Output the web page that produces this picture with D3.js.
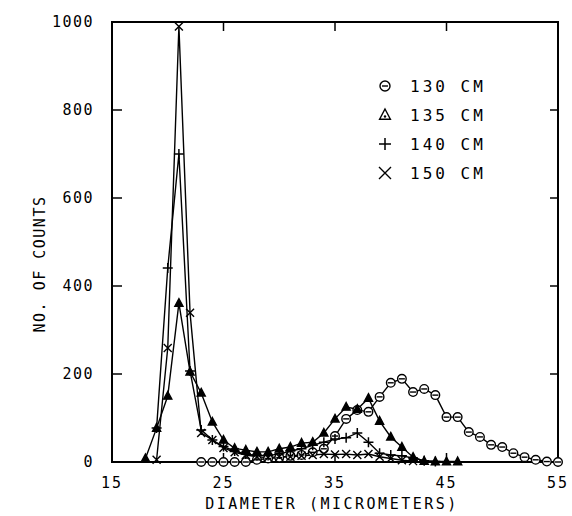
<!DOCTYPE html>
<html>
<head>
<meta charset="utf-8">
<script src="https://cdn.jsdelivr.net/npm/d3@7"></script>
<style>
  body { margin: 0; background: #fff; }
  text { font-family: "DejaVu Sans Mono", monospace; fill: #000; }
</style>
</head>
<body>
<svg id="chart" width="572" height="516"></svg>
<script>
// diameters (micrometers) and counts
var diam130 = d3.range(23, 56);
var counts130 = [0,0,0,0,0,5,8,10,14,16,22,30,59,98,118,114,148,180,189,159,166,152,102,102,68,57,39,34,20,11,5,1,0];

var diam135 = d3.range(18, 47);
var counts135 = [8,77,150,361,205,157,91,50,31,27,23,23,30,34,43,45,66,98,125,120,145,93,57,34,11,2,1,1,1];

var diam140 = d3.range(19, 45);
var counts140 = [77,441,700,207,73,50,35,25,18,15,15,18,25,30,38,45,52,55,66,45,20,16,14,9,3,1];

var diam150 = d3.range(19, 43);
var counts150 = [5,259,990,339,66,50,32,22,16,12,10,12,12,14,16,18,17,18,16,18,12,8,4,2];

var seriesNames = ["130 CM", "135 CM", "140 CM", "150 CM"];
var seriesMarks = ["circle", "triangle", "plus", "cross"];

var xTicks = [15, 25, 35, 45, 55];
var yTicks = [0, 200, 400, 600, 800, 1000];

var series = [
  { name: seriesNames[0], mark: seriesMarks[0], pts: diam130.map((d, i) => [d, counts130[i]]) },
  { name: seriesNames[1], mark: seriesMarks[1], pts: diam135.map((d, i) => [d, counts135[i]]) },
  { name: seriesNames[2], mark: seriesMarks[2], pts: diam140.map((d, i) => [d, counts140[i]]) },
  { name: seriesNames[3], mark: seriesMarks[3], pts: diam150.map((d, i) => [d, counts150[i]]) }
];

var svg = d3.select("#chart");

var x = d3.scaleLinear().domain([15, 55]).range([112, 558]);
var y = d3.scaleLinear().domain([0, 1000]).range([462, 22]);

// frame
svg.append("rect")
  .attr("x", x(15)).attr("y", y(1000))
  .attr("width", x(55) - x(15)).attr("height", y(0) - y(1000))
  .attr("fill", "none").attr("stroke", "#000").attr("stroke-width", 2);

// inward ticks, all four sides
var inner = [25, 35, 45];
svg.append("g").selectAll("line").data(inner).enter().append("line")
  .attr("x1", d => x(d)).attr("x2", d => x(d))
  .attr("y1", y(0)).attr("y2", y(0) - 9)
  .attr("stroke", "#000").attr("stroke-width", 1.5);
svg.append("g").selectAll("line").data(inner).enter().append("line")
  .attr("x1", d => x(d)).attr("x2", d => x(d))
  .attr("y1", y(1000)).attr("y2", y(1000) + 9)
  .attr("stroke", "#000").attr("stroke-width", 1.5);
var innerY = [200, 400, 600, 800];
svg.append("g").selectAll("line").data(innerY).enter().append("line")
  .attr("x1", x(15)).attr("x2", x(15) + 10)
  .attr("y1", d => y(d)).attr("y2", d => y(d))
  .attr("stroke", "#000").attr("stroke-width", 1.5);
svg.append("g").selectAll("line").data(innerY).enter().append("line")
  .attr("x1", x(55)).attr("x2", x(55) - 8)
  .attr("y1", d => y(d)).attr("y2", d => y(d))
  .attr("stroke", "#000").attr("stroke-width", 1.5);

// tick labels
svg.append("g").selectAll("text").data(xTicks).enter().append("text")
  .attr("x", d => x(d)).attr("y", 488)
  .attr("text-anchor", "middle")
  .style("font-size", "15px").style("letter-spacing", "2px")
  .text(d => d);
svg.append("g").selectAll("text").data(yTicks).enter().append("text")
  .attr("x", 94).attr("y", d => y(d) + 5)
  .attr("text-anchor", "end")
  .style("font-size", "15px").style("letter-spacing", "1.5px")
  .text(d => d);

// axis titles
svg.append("text")
  .attr("x", 332).attr("y", 509)
  .attr("text-anchor", "middle")
  .style("font-size", "15px").style("letter-spacing", "2.5px")
  .text("DIAMETER (MICROMETERS)");
svg.append("text")
  .attr("transform", "translate(45,264) rotate(-90)")
  .attr("text-anchor", "middle")
  .style("font-size", "15px").style("letter-spacing", "1.5px")
  .text("NO. OF COUNTS");

var line = d3.line().x(d => x(d[0])).y(d => y(d[1]));

svg.append("g").selectAll("path").data(series).enter().append("path")
  .attr("d", d => line(d.pts))
  .attr("fill", "none").attr("stroke", "#000").attr("stroke-width", 1.4);

// draw one marker into a group
function drawMark(g, mark, legend) {
  if (mark == "circle") {
    g.append("circle").attr("r", legend ? 5 : 4.3)
      .attr("fill", "#fff").attr("stroke", "#000").attr("stroke-width", 1.4);
    g.append("line").attr("x1", -3).attr("x2", 3).attr("y1", 0).attr("y2", 0)
      .attr("stroke", "#000").attr("stroke-width", 1.4);
  } else if (mark == "triangle") {
    var s = legend ? 6 : 4.5;
    g.append("path")
      .attr("d", `M0,${-s} L${s * 0.9},${s * 0.7} L${-s * 0.9},${s * 0.7} Z`)
      .attr("fill", legend ? "#fff" : "#000").attr("stroke", "#000").attr("stroke-width", 1.4);
    if (legend) g.append("circle").attr("r", 1.2).attr("cy", 1.5);
  } else if (mark == "plus") {
    var p = legend ? 6 : 5;
    g.append("path").attr("d", `M${-p},0 H${p} M0,${-p} V${p}`)
      .attr("stroke", "#000").attr("stroke-width", 1.5);
  } else {
    var c = legend ? 6 : 4;
    g.append("path").attr("d", `M${-c},${-c} L${c},${c} M${-c},${c} L${c},${-c}`)
      .attr("stroke", "#000").attr("stroke-width", 1.4);
  }
}

series.forEach(s => {
  svg.append("g").selectAll("g").data(s.pts).enter().append("g")
    .attr("transform", d => `translate(${x(d[0])},${y(d[1])})`)
    .each(function () { drawMark(d3.select(this), s.mark, false); });
});

// legend
var legend = svg.append("g").selectAll("g").data(series).enter().append("g")
  .attr("transform", (d, i) => `translate(385,${86 + i * 29})`);
legend.each(function (d) { drawMark(d3.select(this), d.mark, true); });
legend.append("text")
  .attr("x", 25).attr("y", 6)
  .style("font-size", "16px").style("letter-spacing", "3px")
  .text(d => d.name);
</script>
</body>
</html>
